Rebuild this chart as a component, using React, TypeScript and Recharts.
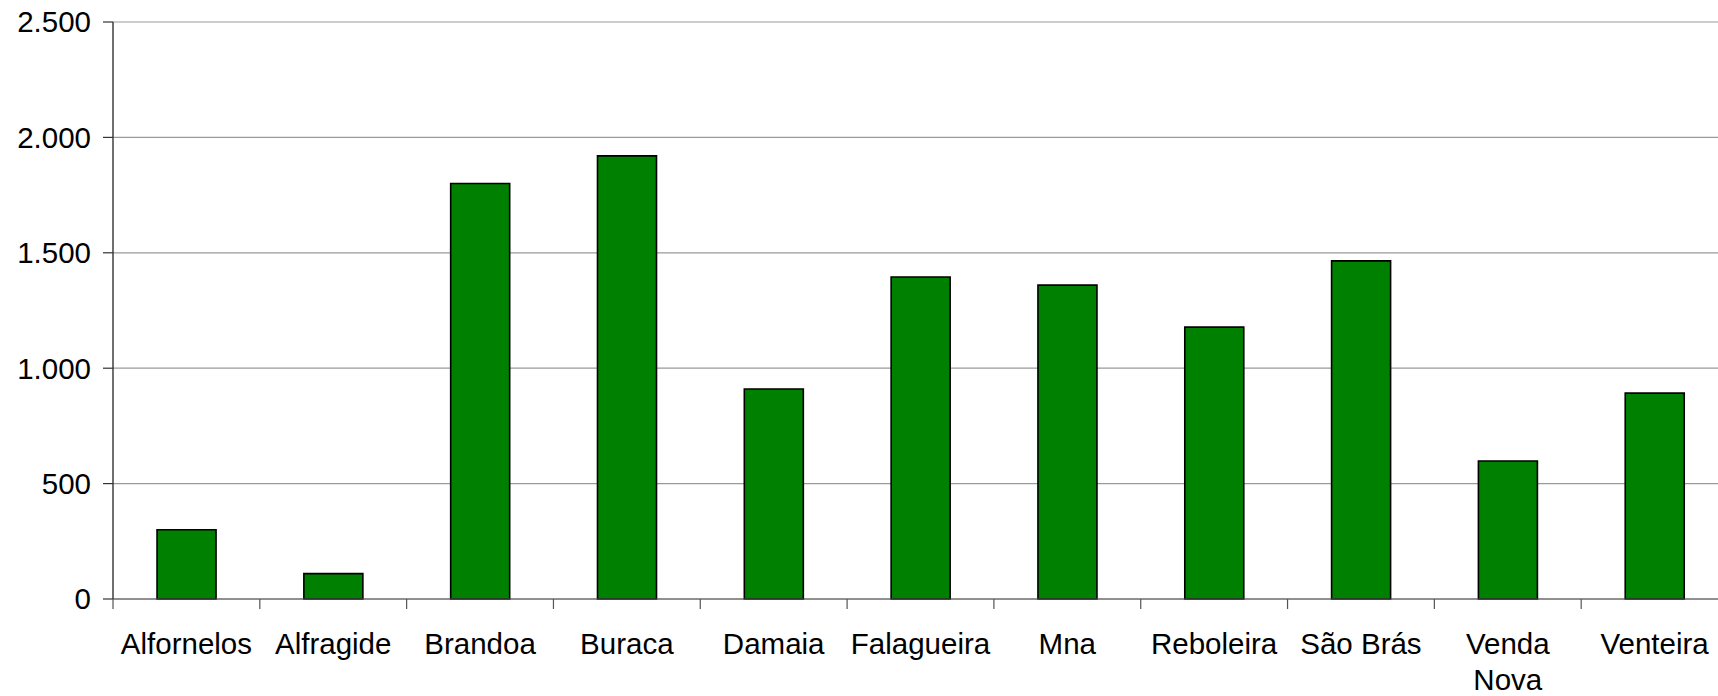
import { BarChart, Bar, XAxis, YAxis, CartesianGrid } from 'recharts'

// bairros e valores
const categories = ['Alfornelos', 'Alfragide', 'Brandoa', 'Buraca', 'Damaia', 'Falagueira', 'Mna', 'Reboleira', 'São Brás', 'Venda Nova', 'Venteira']
const values = [300, 110, 1800, 1920, 910, 1395, 1360, 1178, 1465, 598, 892]
const yTicks = [0, 500, 1000, 1500, 2000, 2500]

const data = categories.map((name, i) => ({ name, value: values[i] }))

const font = '"Liberation Sans", Arial, sans-serif'

const fmt = (v: number) => String(v).replace(/\B(?=(\d{3})+(?!\d))/g, '.')

// long multi-word labels go on two lines (Excel wraps "Venda Nova")
const splitLabel = (s: string) => (s.length > 9 && s.includes(' ') ? s.split(' ') : [s])

// tick at the category boundaries, like Excel does
function CategoryTick(props: any) {
  const { x, y, payload } = props
  const half = payload.offset || 0
  const axisY = y - 29
  const lines = splitLabel(String(payload.value))
  return (
    <g>
      <line x1={x - half} x2={x - half} y1={axisY} y2={axisY + 10} stroke="#555" strokeWidth={1.2} />
      <text x={x} y={y} textAnchor="middle" fontSize={29.5} fontFamily={font} fill="#000">
        {lines.map((l, i) => (
          <tspan key={i} x={x} dy={i === 0 ? 26 : 36}>
            {l}
          </tspan>
        ))}
      </text>
    </g>
  )
}

export default function App() {
  return (
    <div style={{ position: 'fixed', left: 0, top: 0, width: 1718, height: 696, overflow: 'hidden', background: '#fff' }}>
      <BarChart
        width={1740}
        height={696}
        data={data}
        margin={{ top: 22, right: 12, bottom: 0, left: 0 }}
        barCategoryGap="30%"
      >
        <CartesianGrid horizontal vertical={false} stroke="#9a9a9a" strokeWidth={1.2} />
        <XAxis
          dataKey="name"
          interval={0}
          tickLine={false}
          axisLine={{ stroke: '#555', strokeWidth: 1.2 }}
          tickSize={0}
          tickMargin={29}
          height={97}
          tick={<CategoryTick />}
        />
        <YAxis
          domain={[0, 2500]}
          ticks={yTicks}
          width={113}
          tickFormatter={fmt}
          tickSize={10}
          tickMargin={12}
          axisLine={{ stroke: '#333', strokeWidth: 1.4 }}
          tickLine={{ stroke: '#333', strokeWidth: 1.2 }}
          tick={{ fontSize: 29.5, fontFamily: font, fill: '#000' }}
        />
        <Bar dataKey="value" fill="#008000" stroke="#000" strokeWidth={1.6} isAnimationActive={false} />
      </BarChart>
    </div>
  )
}
